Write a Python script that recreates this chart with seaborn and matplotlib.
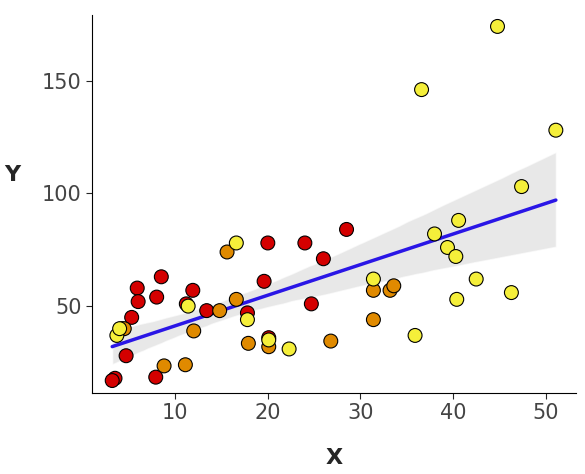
import matplotlib
matplotlib.use("Agg")
import matplotlib.pyplot as plt
import seaborn as sns
import numpy as np
import pandas as pd

red_x = [3.5,3.2,4.7,5.3,5.9,6.0,7.9,8.0,8.5,11.2,11.9,13.4,17.8,19.6,20.0,20.1,24.0,24.7,26.0,28.5]
red_y = [18,17,28,45,58,52,18.5,54,63,51,57,48,47,61,78,36,78,51,71,84]
orn_x = [4.2,4.5,8.8,11.1,12.0,14.8,15.6,16.6,17.9,20.1,26.8,31.4,31.4,33.2,33.6]
orn_y = [40,40,23.5,24,39,48,74,53,33.5,32,34.5,57,44,57,59]
yel_x = [3.7,4.0,11.4,16.6,17.8,20.1,22.3,31.4,35.9,36.6,38.0,39.4,40.3,40.6,40.4,42.5,44.8,46.3,47.4,51.1]
yel_y = [37,40,50,78,44,35,31,62,37,146,82,76,72,88,53,62,174,56,103,128]

df = pd.DataFrame({
    "x": red_x + orn_x + yel_x,
    "y": red_y + orn_y + yel_y,
    "g": ["r"]*len(red_x) + ["o"]*len(orn_x) + ["y"]*len(yel_x),
})

sns.set_style("white")
fig, ax = plt.subplots(figsize=(5.85, 4.74), dpi=100)
sns.regplot(data=df, x="x", y="y", scatter=False, ax=ax,
            line_kws=dict(color="#2a16e6", lw=2.5), ci=95)
ax.collections[0].set_facecolor("#d9d9d9")
ax.collections[0].set_alpha(0.6)
sns.scatterplot(data=df, x="x", y="y", hue="g",
                palette={"r": "#d40000", "o": "#e08a00", "y": "#f5ef3a"},
                edgecolor="black", linewidth=0.8, s=100, legend=False, ax=ax, zorder=3)
ax.set_xlim(1, 53.3)
ax.set_ylim(11.5, 179)
ax.set_xticks([10, 20, 30, 40, 50])
ax.set_yticks([50, 100, 150])
ax.tick_params(labelsize=15, length=4, left=True, bottom=True, labelcolor="#444444")
ax.set_xlabel("X", fontsize=16, fontweight="bold", labelpad=18)
ax.set_ylabel("Y", fontsize=16, fontweight="bold", rotation=0)
ax.yaxis.set_label_coords(-0.165, 0.55)
for s in ["top", "right"]:
    ax.spines[s].set_visible(False)
for s in ["left", "bottom"]:
    ax.spines[s].set_color("black")
plt.subplots_adjust(left=0.157, right=0.985, top=0.968, bottom=0.171)
fig.savefig("out.png", dpi=100)
